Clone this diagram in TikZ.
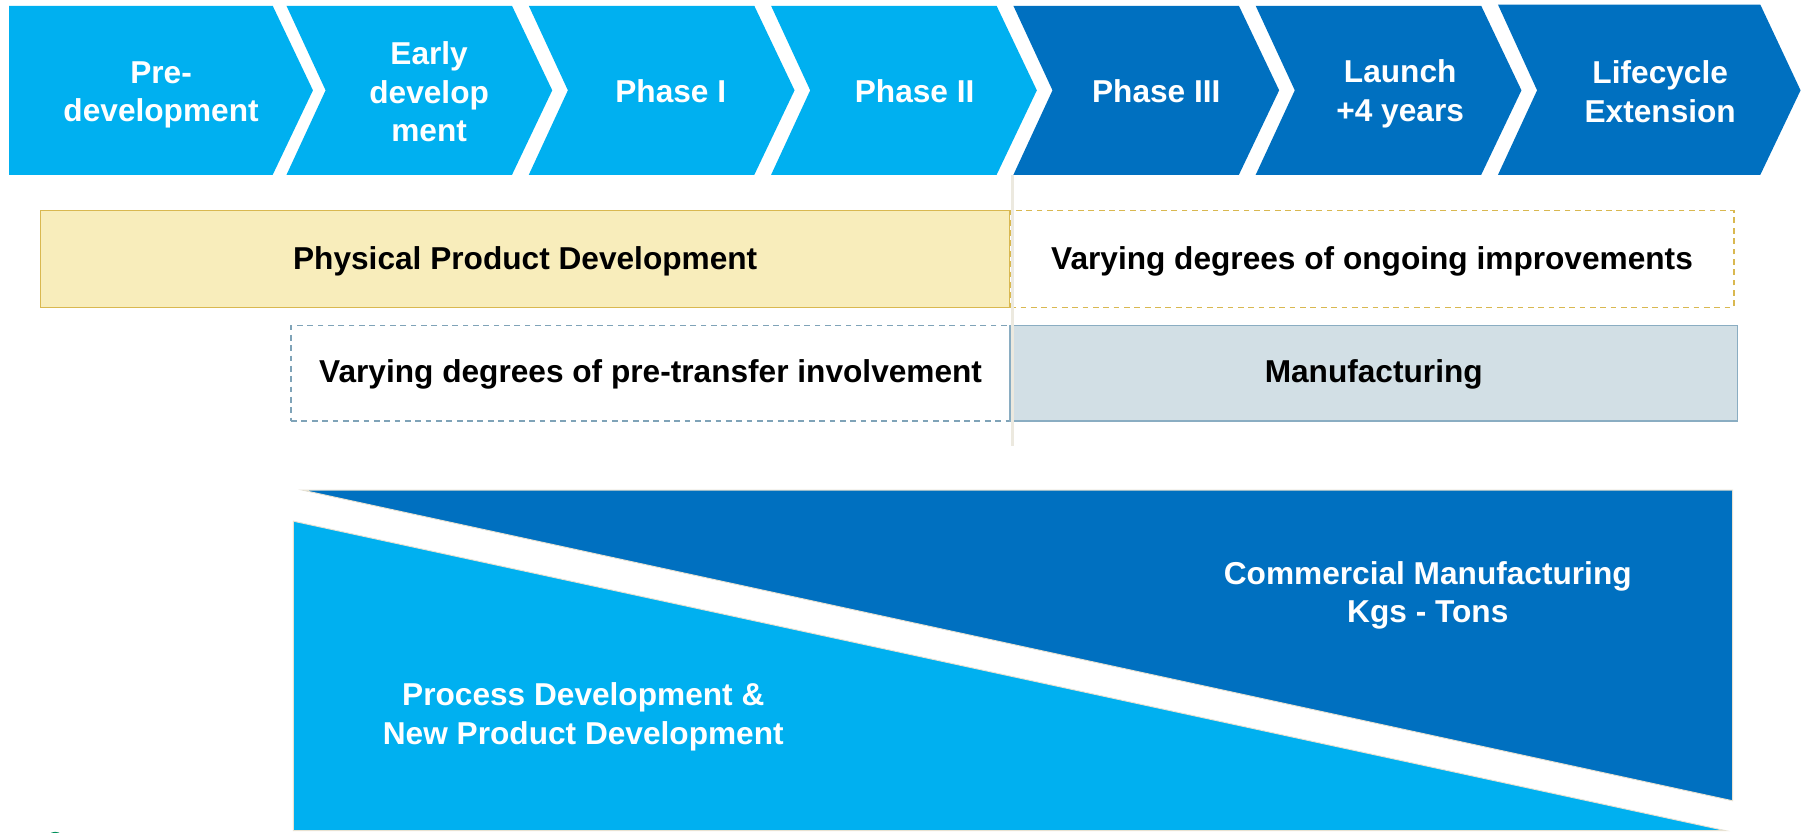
\documentclass[tikz,border=0pt]{standalone}
\usepackage{fontspec}
\setmainfont{Liberation Sans}
\definecolor{lblue}{HTML}{00B0F0}
\definecolor{dblue}{HTML}{0070C0}
\definecolor{ylfill}{HTML}{F8EDBB}
\definecolor{ylline}{HTML}{D9B850}
\definecolor{bgline}{HTML}{7FA3B8}
\definecolor{mfill}{HTML}{D2DFE5}
\definecolor{mline}{HTML}{8AADC2}
\definecolor{sep}{HTML}{ECE9DF}
\definecolor{edge}{HTML}{E8E2D2}
\definecolor{logo}{HTML}{00905A}
\newcommand{\lowtext}[2]{\raisebox{-#1}[\height][\depth]{#2}}
\begin{document}
\begin{tikzpicture}[x=1pt,y=-1pt,
  lbl/.style={font=\bfseries\fontsize{27.5}{33.5}\selectfont, align=center, inner sep=0pt},
  wlbl/.style={lbl, text=white},
  boxbase/.style={lbl, rectangle, line width=1.2pt},
  solidyel/.style={boxbase, fill=ylfill, draw=ylline},
  dashyel/.style={boxbase, fill=white, draw=ylline, dash pattern=on 5pt off 4pt},
  dashblu/.style={boxbase, fill=white, draw=bgline, dash pattern=on 5pt off 4pt},
  mfg/.style={boxbase, fill=mfill, draw=mline}]
\useasboundingbox (0,0) rectangle (1568,724);
\fill[white] (0,0) rectangle (1568,724);

% chevrons
\fill[lblue] (8,5) -- (237,5) -- (272,78.5) -- (237,152) -- (8,152) -- cycle;
\fill[lblue] (249,5) -- (445,5) -- (480,78.5) -- (445,152) -- (249,152) -- (283,78.5) -- cycle;
\fill[lblue] (459.6,5) -- (655.6,5) -- (690.6,78.5) -- (655.6,152) -- (459.6,152) -- (493.6,78.5) -- cycle;
\fill[lblue] (670.2,5) -- (866.2,5) -- (901.2,78.5) -- (866.2,152) -- (670.2,152) -- (704.2,78.5) -- cycle;
\fill[dblue] (880.8,5) -- (1076.8,5) -- (1111.8,78.5) -- (1076.8,152) -- (880.8,152) -- (914.8,78.5) -- cycle;
\fill[dblue] (1091.4,5) -- (1287.4,5) -- (1322.4,78.5) -- (1287.4,152) -- (1091.4,152) -- (1125.4,78.5) -- cycle;
\fill[dblue] (1302,4) -- (1530,4) -- (1565,78.5) -- (1530,152) -- (1302,152) -- (1336,78.5) -- cycle;

\node[wlbl] (c1) at (140,82.5) {Pre-\\development};
\node[wlbl] (c2) at (373,80) {Early\\develop\\ment};
\node[wlbl] (c3) at (583,79.5) {Phase I};
\node[wlbl] (c4) at (795,79.5) {Phase II};
\node[wlbl] (c5) at (1005,79.5) {Phase III};
\node[wlbl] (c6) at (1217,81.5) {Launch\\+4 years};
\node[wlbl] (c7) at (1443,79.5) {Lifecycle\\Extension};

% bars
\node[solidyel, minimum width=843pt, minimum height=84pt] (ppd) at (456.5,225) {\lowtext{2pt}{Physical Product Development}};
\node[dashyel, minimum width=629pt, minimum height=84pt] (ong) at (1192.5,225) {\lowtext{2pt}{Varying degrees of ongoing improvements}};
\node[dashblu, minimum width=625pt, minimum height=83pt] (pre) at (565.5,324.5) {\lowtext{1pt}{Varying degrees of pre-transfer involvement}};
\node[mfg, minimum width=632pt, minimum height=83pt] (man) at (1194,324.5) {\lowtext{1pt}{Manufacturing}};

\draw[sep, line width=3pt] (880,152) -- (880,388);

% wedges
\filldraw[fill=dblue, draw=edge, line width=0.8pt] (263,426) -- (1506,426) -- (1506,696) -- cycle;
\filldraw[fill=lblue, draw=edge, line width=0.8pt] (255,453) -- (1500,722) -- (255,722) -- cycle;

\node[wlbl] (cm) at (1241,517.5) {Commercial Manufacturing\\Kgs - Tons};
\node[wlbl] (pd) at (507,623) {Process Development \&\\New Product Development};

% partial logo at the bottom edge
\fill[logo] (48,731) circle (8);
\end{tikzpicture}
\end{document}
